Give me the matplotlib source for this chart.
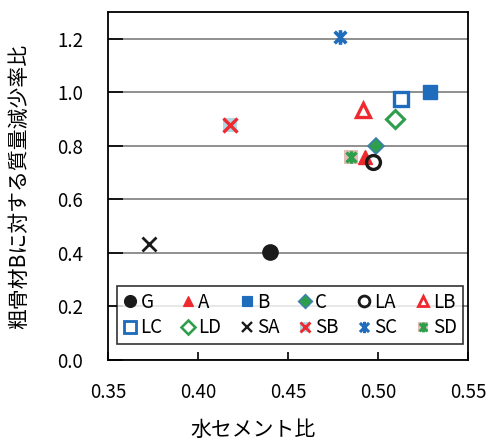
import matplotlib
matplotlib.use("Agg")
import matplotlib.pyplot as plt
from matplotlib.path import Path
from matplotlib.lines import Line2D
from matplotlib.legend_handler import HandlerTuple

plt.rcParams['font.family'] = ['Noto Sans CJK JP', 'DejaVu Sans']

# Specimen series: water-cement ratio vs. mass-loss ratio relative to aggregate B
series = ["G", "A", "B", "C", "LA", "LB", "LC", "LD", "SA", "SB", "SC", "SD"]
wc_ratio = [0.440, 0.493, 0.529, 0.499, 0.497, 0.4915, 0.513, 0.5095, 0.373, 0.418, 0.479, 0.4848]
loss_ratio = [0.405, 0.76, 1.00, 0.80, 0.74, 0.935, 0.975, 0.90, 0.435, 0.877, 1.205, 0.758]

x_ticks = [0.35, 0.40, 0.45, 0.50, 0.55]
y_ticks = [0.0, 0.2, 0.4, 0.6, 0.8, 1.0, 1.2]

RED = "#ee2a2e"
BLUE = "#1f6cbc"
GREEN = "#2e9e4c"
BLACK = "#1a1a1a"
LIGHTBLUE = "#b0d8e6"
PINK = "#e2beb4"

asterisk = Path([(-1, -1), (1, 1), (-1, 1), (1, -1), (0, -1.25), (0, 1.25)],
                [Path.MOVETO, Path.LINETO, Path.MOVETO, Path.LINETO, Path.MOVETO, Path.LINETO])

# list of layers per series: (marker, size, face, edge, edgewidth)
styles = {
    "G":  [("o", 11, BLACK, BLACK, 1)],
    "A":  [("^", 10, RED, RED, 1)],
    "B":  [("s", 9.5, BLUE, BLUE, 1)],
    "C":  [("D", 8.5, GREEN, "#3a7fb0", 1.2)],
    "LA": [("o", 10, "none", BLACK, 2.4)],
    "LB": [("^", 10, "none", RED, 2.4)],
    "LC": [("s", 10.5, "none", BLUE, 2.4)],
    "LD": [("D", 9, "none", GREEN, 2.2)],
    "SA": [("x", 10, "none", BLACK, 2.0)],
    "SB": [("s", 10, LIGHTBLUE, "none", 0), ("x", 10, "none", RED, 2.4)],
    "SC": [(asterisk, 10.5, "none", BLUE, 2.6)],
    "SD": [("s", 10, PINK, "none", 0), (asterisk, 9, "none", GREEN, 2.4)],
}

fig = plt.figure(figsize=(4.98, 4.41), dpi=100)
ax = fig.add_axes([108 / 498, 1 - 360 / 441, 360 / 498, 348 / 441])

handles = {}
for name, xv, yv in zip(series, wc_ratio, loss_ratio):
    layers = []
    for mk, ms, fc, ec, ew in styles[name]:
        ax.plot([xv], [yv], linestyle="none", marker=mk, markersize=ms,
                markerfacecolor=fc, markeredgecolor=ec, markeredgewidth=ew, zorder=3)
        layers.append(Line2D([], [], linestyle="none", marker=mk, markersize=ms * 0.78,
                             markerfacecolor=fc, markeredgecolor=ec,
                             markeredgewidth=ew * 0.85))
    handles[name] = tuple(layers) if len(layers) > 1 else layers[0]

ax.set_xlim(0.35, 0.55)
ax.set_ylim(0.0, 1.3)
ax.set_xticks(x_ticks)
ax.set_yticks(y_ticks)
ax.set_xticklabels([f"{v:.2f}" for v in x_ticks], fontsize=13.5)
ax.set_yticklabels([f"{v:.1f}" for v in y_ticks], fontsize=13.5)
ax.tick_params(axis="y", direction="in", length=11, width=1.2, pad=18, colors="black")
ax.tick_params(axis="x", direction="in", length=6, width=1.2, pad=16, colors="black")
ax.yaxis.grid(True, color="#8f8f8f", linewidth=1.4)
ax.set_axisbelow(True)
for sp in ax.spines.values():
    sp.set_linewidth(1.3)
    sp.set_color("black")

ax.set_ylabel("粗骨材Bに対する質量減少率比", fontsize=15)
ax.yaxis.set_label_coords(-78 / 360, 0.5)
fig.text(253 / 498, 1 - 430 / 441, "水セメント比", fontsize=15, ha="center", va="center")

# legend is filled column by column, so interleave the two rows
row1 = series[:6]
row2 = series[6:]
order = [n for pair in zip(row1, row2) for n in pair]
leg = ax.legend([handles[n] for n in order], order, ncol=6, fontsize=13.5,
                handler_map={tuple: HandlerTuple(ndivide=1)},
                loc="lower left", bbox_to_anchor=(9 / 360, 16 / 348, 346 / 360, 65 / 348),
                mode="expand", handlelength=0.8, handletextpad=0.15, columnspacing=0.5,
                borderpad=0.3, labelspacing=0.25, frameon=True, fancybox=False,
                borderaxespad=0)
leg.get_frame().set_edgecolor("black")
leg.get_frame().set_linewidth(1.2)

fig.savefig("out.png", dpi=100)
